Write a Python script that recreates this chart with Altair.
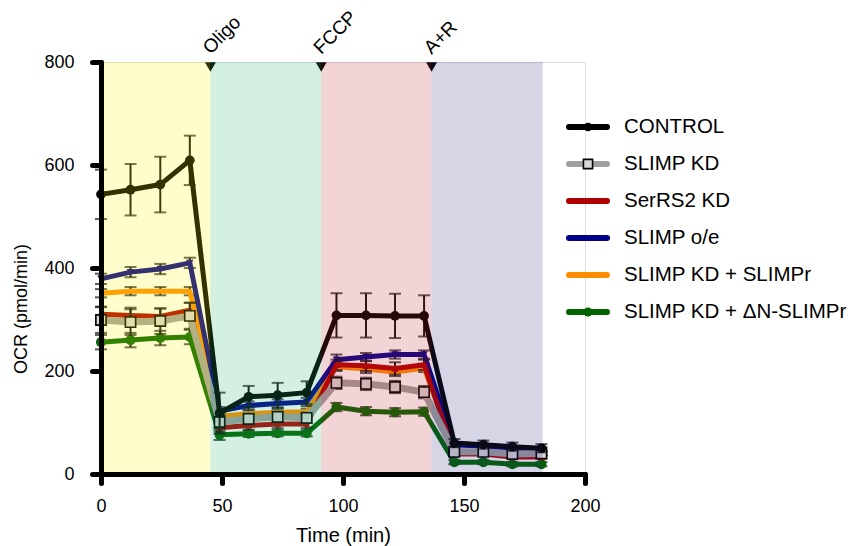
import altair as alt
import pandas as pd

# ---------------- data ----------------
series = ["CONTROL", "SLIMP KD", "SerRS2 KD", "SLIMP o/e",
          "SLIMP KD + SLIMPr", "SLIMP KD + \u0394N-SLIMPr"]
colors = ["#000000", "#a0a0a0", "#b00000", "#00008b", "#ff8c00", "#006400"]
times = [0, 12.2, 24.5, 36.7, 49, 61, 73, 85, 97.3, 109.5, 121.5, 133.5, 146, 158, 170, 182]

control     = [543, 552, 562, 609, 118, 150, 153, 158, 308, 308, 307, 307, 60, 57, 53, 50]
control_err = [48, 50, 54, 48, 40, 21, 24, 22, 43, 43, 43, 40, 8, 8, 8, 8]
slimp_kd     = [299, 295, 297, 307, 101, 107, 111, 109, 177, 175, 169, 159, 43, 43, 39, 40]
slimp_kd_err = [25, 25, 25, 25, 12, 10, 10, 10, 12, 12, 12, 12, 5, 5, 5, 5]
serrs2     = [310, 308, 306, 318, 90, 94, 97, 97, 212, 210, 205, 212, 39, 39, 33, 33]
serrs2_err = [15, 15, 15, 15, 8, 8, 8, 8, 10, 10, 12, 10, 4, 4, 4, 4]
slimp_oe     = [379, 392, 398, 410, 122, 133, 137, 140, 222, 227, 232, 232, 57, 54, 50, 48]
slimp_oe_err = [10, 10, 10, 10, 8, 8, 8, 8, 10, 8, 8, 8, 4, 4, 4, 4]
slimpr     = [351, 355, 355, 355, 112, 117, 120, 121, 208, 204, 198, 206, 45, 42, 40, 40]
slimpr_err = [8, 8, 8, 8, 6, 6, 6, 6, 8, 8, 8, 8, 3, 3, 3, 3]
dn_slimpr     = [256, 260, 264, 266, 76, 78, 79, 79, 130, 122, 120, 121, 23, 23, 19, 19]
dn_slimpr_err = [14, 14, 14, 14, 10, 6, 6, 6, 8, 8, 8, 8, 4, 4, 4, 4]

values = [control, slimp_kd, serrs2, slimp_oe, slimpr, dn_slimpr]
errors = [control_err, slimp_kd_err, serrs2_err, slimp_oe_err, slimpr_err, dn_slimpr_err]

band_start = [0, 45.2, 91, 136.6]
band_end = [45.2, 91, 136.6, 182.5]
band_color = ["#fff500", "#28b473", "#be2832", "#2d2d82"]

inj_time = [45.2, 91, 136.6]
inj_label = ["Oligo", "FCCP", "A+R"]

y_title = ["OCR (pmol/min)"]

# ---------------- tables ----------------
rows = []
for s, vals, errs in zip(series, values, errors):
    for t, v, e in zip(times, vals, errs):
        rows.append({"series": s, "time": t, "ocr": v, "lo": v - e, "hi": v + e})
df = pd.DataFrame(rows)
bands = pd.DataFrame({"start": band_start, "end": band_end, "fill": band_color})
inj = pd.DataFrame({"time": inj_time, "label": inj_label})
leg = pd.DataFrame({"series": series})
ytitle_df = pd.DataFrame({"t": y_title})

FONT = "Liberation Sans"
xs = alt.Scale(domain=[0, 200], nice=False, zero=False)
ys = alt.Scale(domain=[0, 800], nice=False)

x_axis = alt.Axis(values=[0, 50, 100, 150, 200], grid=False, domainWidth=5, domainColor="black",
                  domainCap="round", tickWidth=5, tickSize=9, tickColor="black", tickCap="round",
                  labelFontSize=18, labelFont=FONT, labelColor="black", labelPadding=14,
                  labelFlush=False, titleFontSize=20, titleFont=FONT, titleFontWeight="normal",
                  titleColor="black", titlePadding=10, zindex=2)
y_axis = alt.Axis(values=[0, 200, 400, 600, 800], grid=False, domainWidth=5, domainColor="black",
                  domainCap="round", tickWidth=5, tickSize=9, tickColor="black", tickCap="round",
                  labelFontSize=18, labelFont=FONT, labelColor="black", labelPadding=18,
                  zindex=2)


def X(field):
    return alt.X(f"{field}:Q", scale=xs, axis=x_axis, title="Time (min)")


def Y(field):
    return alt.Y(f"{field}:Q", scale=ys, axis=y_axis, title=None)


markers = {
    "CONTROL": dict(shape="circle", size=95, filled=True),
    "SLIMP KD": dict(shape="square", size=105, filled=True, fill="#d8d8d8", stroke="black", strokeWidth=1.6),
    "SerRS2 KD": dict(shape="triangle-up", size=55, filled=True),
    "SLIMP o/e": dict(shape="triangle-down", size=55, filled=True),
    "SLIMP KD + SLIMPr": None,
    "SLIMP KD + \u0394N-SLIMPr": dict(shape="circle", size=100, filled=True),
}
line_width = {"SLIMP KD": 7}

layers = []
for s, col in reversed(list(zip(series, colors))):
    base = alt.Chart(df).transform_filter(alt.FieldEqualPredicate(field="series", equal=s))
    ecol = "#111111"
    layers.append(base.mark_rule(color=ecol, strokeWidth=2).encode(x=X("time"), y=Y("lo"), y2="hi"))
    layers.append(base.mark_tick(color=ecol, orient="horizontal", size=12, thickness=2)
                  .encode(x=X("time"), y=Y("lo")))
    layers.append(base.mark_tick(color=ecol, orient="horizontal", size=12, thickness=2)
                  .encode(x=X("time"), y=Y("hi")))
    layers.append(base.mark_line(color=col, strokeWidth=line_width.get(s, 5), strokeJoin="round")
                  .encode(x=X("time"), y=Y("ocr")))
    m = markers[s]
    if m is not None:
        kw = dict(m)
        if "fill" not in kw:
            kw["color"] = col
        layers.append(base.mark_point(opacity=1, **kw).encode(x=X("time"), y=Y("ocr")))

# injection markers
layers.append(alt.Chart(inj).mark_point(shape="triangle-down", filled=True, size=120, color="black", opacity=1)
              .encode(x=X("time"), y=alt.value(5)))
# shaded phases drawn over the data
layers.append(alt.Chart(bands).mark_rect(opacity=0.2)
              .encode(x=X("start"), x2="end", y=alt.Y(datum=0, scale=ys, axis=y_axis, title=None),
                      y2=alt.datum(800), color=alt.Color("fill:N", scale=None)))
layers.append(alt.Chart(inj).mark_text(angle=315, align="left", baseline="alphabetic", fontSize=19,
                                       font=FONT, color="black")
              .encode(x=X("time"), y=alt.value(-7), text="label:N"))
# y axis title
layers.append(alt.Chart(ytitle_df).mark_text(angle=270, align="center", baseline="middle", fontSize=18,
                                             font=FONT, color="black")
              .encode(x=alt.value(-79), y=alt.value(247), text="t:N"))

main = alt.layer(*layers)

# legend
ly = alt.Y("series:N", scale=alt.Scale(type="point", domain=series, range=[65, 250], padding=0), axis=None)
leg_layers = []
for s, col in zip(series, colors):
    lb = alt.Chart(leg).transform_filter(alt.FieldEqualPredicate(field="series", equal=s))
    leg_layers.append(lb.mark_rule(color=col, strokeWidth=6, strokeCap="round")
                      .encode(x=alt.value(468), x2=alt.value(506), y=ly))
    m = markers[s]
    if m is not None:
        kw = dict(m)
        if "fill" not in kw:
            kw["color"] = col
        kw["size"] = kw["size"] * 0.8
        leg_layers.append(lb.mark_point(opacity=1, **kw).encode(x=alt.value(487), y=ly))
leg_layers.append(alt.Chart(leg).mark_text(align="left", baseline="middle", fontSize=20.5, font=FONT,
                                           color="black")
                  .encode(x=alt.value(523), y=ly, text="series:N"))
legend = alt.layer(*leg_layers)

chart = (alt.layer(main, legend)
         .resolve_scale(y="independent")
         .properties(width=484, height=412,
                     padding={"left": 101, "top": 62, "right": 272, "bottom": 72},
                     autosize=alt.AutoSizeParams(type="none"))
         .configure_view(stroke=None)
         .configure(background="white"))

chart.save("out.html", embed_options={"renderer": "svg", "actions": False})
